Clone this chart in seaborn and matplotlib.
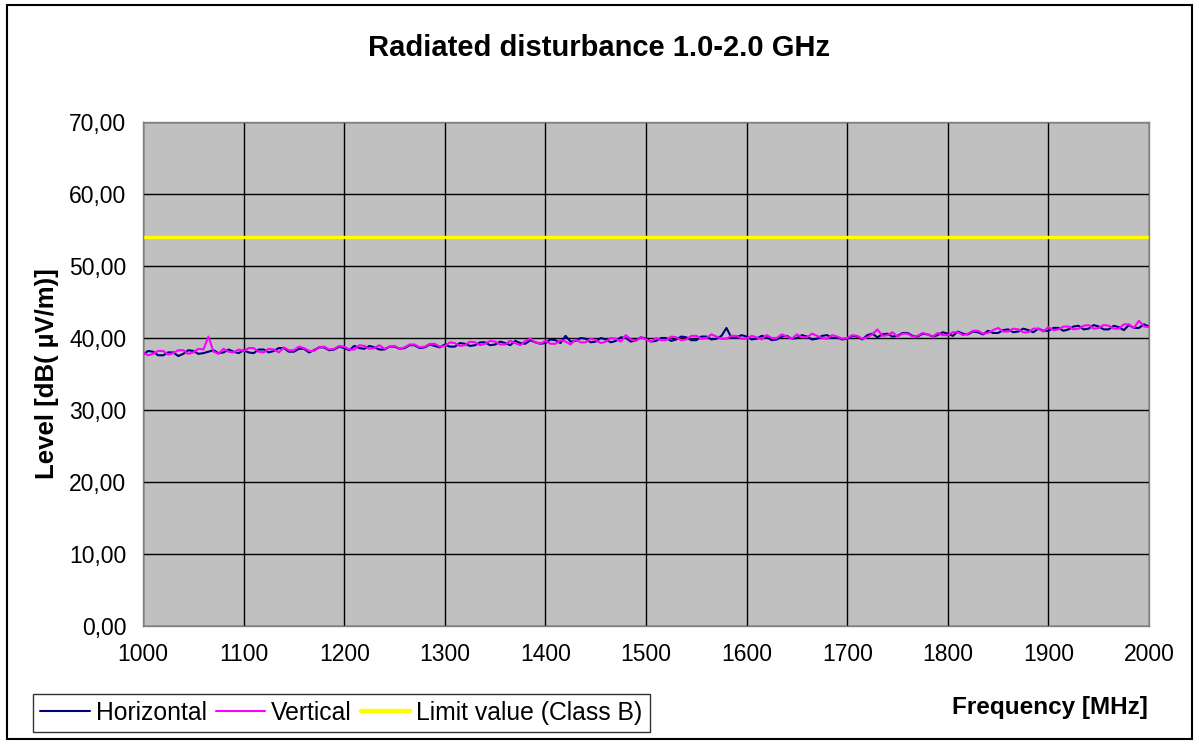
import numpy as np
import pandas as pd
import matplotlib
matplotlib.use('Agg')
import matplotlib.pyplot as plt
import seaborn as sns
from matplotlib.ticker import FuncFormatter
from matplotlib.patches import Rectangle

# frequency grid (MHz), one reading every 5 MHz
freq = list(range(1000, 2001, 5))

horizontal = [
    37.7, 38.2, 38.1, 37.6, 37.6, 38.0, 38.0, 37.5, 37.8, 38.3, 38.2, 37.8, 37.9, 38.1, 38.3, 37.9, 38.0, 38.4, 38.1, 37.9,
    38.3, 38.0, 37.9, 38.4, 38.4, 38.0, 38.2, 38.6, 38.6, 38.1, 38.1, 38.5, 38.5, 38.0, 38.3, 38.7, 38.7, 38.3, 38.4, 38.8,
    38.6, 38.3, 38.9, 38.6, 38.5, 38.9, 38.7, 38.4, 38.4, 38.8, 38.8, 38.5, 38.6, 39.0, 39.0, 38.6, 38.7, 39.1, 38.9, 38.7,
    39.1, 38.8, 38.8, 39.3, 39.2, 38.9, 39.0, 39.4, 39.4, 39.0, 39.1, 39.5, 39.3, 39.0, 39.6, 39.3, 39.2, 39.7, 39.4, 39.2,
    39.3, 39.8, 39.7, 39.3, 40.3, 39.5, 39.6, 40.0, 39.9, 39.4, 39.5, 40.0, 39.8, 39.4, 39.6, 40.1, 40.0, 39.5, 39.7, 40.1,
    39.9, 39.5, 39.6, 40.0, 40.0, 39.6, 39.8, 40.2, 40.1, 39.7, 39.7, 40.2, 40.2, 39.8, 39.9, 40.3, 41.4, 40.0, 40.1, 40.4,
    40.2, 39.8, 39.9, 40.3, 40.1, 39.7, 39.8, 40.2, 40.3, 39.9, 40.0, 40.4, 40.2, 39.8, 39.9, 40.3, 40.4, 40.0, 40.1, 39.8,
    39.9, 40.3, 40.2, 39.8, 40.4, 40.6, 40.1, 40.5, 40.6, 40.2, 40.3, 40.7, 40.7, 40.3, 40.2, 40.6, 40.5, 40.2, 40.4, 40.8,
    40.6, 40.3, 40.9, 40.6, 40.5, 40.9, 40.8, 40.5, 41.0, 40.7, 40.7, 41.1, 41.2, 40.8, 40.9, 41.3, 41.1, 40.8, 41.3, 41.0,
    41.0, 41.4, 41.4, 41.0, 41.2, 41.6, 41.7, 41.2, 41.3, 41.8, 41.6, 41.2, 41.2, 41.7, 41.5, 41.1, 41.8, 41.4, 41.4, 41.9,
    41.6,
]

vertical = [
    38.0, 37.6, 37.8, 38.2, 38.2, 37.7, 37.9, 38.3, 38.3, 37.8, 38.0, 38.5, 38.4, 40.2, 38.1, 37.8, 38.5, 38.1, 38.0, 38.4,
    38.2, 38.6, 38.6, 38.1, 38.0, 38.5, 38.4, 38.0, 38.7, 38.3, 38.3, 38.8, 38.6, 38.2, 38.2, 38.7, 38.8, 38.4, 38.5, 38.9,
    38.8, 38.4, 38.4, 39.0, 38.9, 38.5, 38.6, 39.0, 38.5, 38.8, 38.9, 38.5, 38.7, 39.1, 39.1, 38.7, 38.8, 39.2, 39.2, 38.8,
    38.9, 39.4, 39.3, 38.9, 39.0, 39.5, 39.4, 39.0, 39.2, 39.6, 39.5, 39.1, 39.1, 39.6, 39.3, 39.0, 39.6, 39.9, 39.4, 39.2,
    39.6, 39.2, 39.2, 39.7, 39.5, 39.1, 39.8, 39.4, 39.4, 39.9, 39.7, 39.3, 39.5, 40.0, 39.9, 39.5, 40.4, 39.8, 39.6, 40.1,
    39.8, 39.5, 40.0, 39.7, 39.7, 40.2, 40.1, 39.7, 39.8, 40.3, 40.3, 39.9, 40.0, 40.5, 40.2, 39.9, 39.9, 40.3, 40.3, 39.9,
    39.9, 40.3, 40.1, 39.8, 40.4, 40.0, 40.0, 40.5, 40.2, 39.9, 40.5, 40.1, 40.1, 40.6, 40.3, 40.0, 39.9, 40.4, 40.2, 39.9,
    40.0, 40.4, 40.3, 39.9, 40.1, 40.5, 41.2, 40.3, 40.4, 40.8, 40.2, 40.6, 40.6, 40.2, 40.3, 40.7, 40.5, 40.2, 40.7, 40.4,
    40.4, 40.8, 40.8, 40.4, 40.6, 41.0, 41.0, 40.6, 40.7, 41.1, 41.4, 40.9, 40.9, 41.3, 41.2, 40.8, 40.8, 41.3, 41.3, 40.9,
    41.5, 41.1, 41.2, 41.6, 41.6, 41.2, 41.3, 41.7, 41.8, 41.3, 41.4, 41.8, 41.7, 41.3, 41.3, 41.9, 41.9, 41.4, 42.4, 41.6,
    41.5,
]

limit_value = 54.0

series_names = ['Horizontal', 'Vertical', 'Limit value (Class B)']
colors = {'Horizontal': '#000080', 'Vertical': '#FF00FF',
          'Limit value (Class B)': '#FFFF00'}

df = pd.concat([
    pd.DataFrame({'freq': freq, 'level': horizontal, 'series': 'Horizontal'}),
    pd.DataFrame({'freq': freq, 'level': vertical, 'series': 'Vertical'}),
    pd.DataFrame({'freq': freq, 'level': [limit_value] * len(freq),
                  'series': 'Limit value (Class B)'}),
])

sns.set_style('white')
plt.rcParams['font.family'] = ['Liberation Sans', 'DejaVu Sans']
plt.rcParams['text.color'] = 'black'
plt.rcParams['axes.labelcolor'] = 'black'
plt.rcParams['xtick.color'] = 'black'
plt.rcParams['ytick.color'] = 'black'

fig = plt.figure(figsize=(11.99, 7.44), dpi=100)
ax = fig.add_axes([0.1193, 0.1586, 0.839, 0.6774])
ax.set_facecolor('#C0C0C0')

sns.lineplot(data=df, x='freq', y='level', hue='series', hue_order=series_names,
             palette=colors, estimator=None, sort=False, ax=ax)
for line, lw in zip(ax.lines, [1.5, 1.5, 2.4]):
    line.set_linewidth(lw)

ax.set_xlim(1000, 2000)
ax.set_ylim(0, 70)
ax.set_xticks(range(1000, 2001, 100))
ax.set_yticks(range(0, 71, 10))
ax.yaxis.set_major_formatter(FuncFormatter(lambda v, p: f'{v:.2f}'.replace('.', ',')))
ax.grid(True, color='black', linewidth=1.0)
ax.set_axisbelow(True)
for s in ax.spines.values():
    s.set_color('#808080')
    s.set_linewidth(1.0)
ax.tick_params(axis='both', direction='out', length=6, width=1, color='black',
               labelsize=16.5, pad=6, labelcolor='black')

ax.set_xlabel('')
ax.set_ylabel('Level [dB( µV/m)]', fontsize=18.5, fontweight='bold', labelpad=7,
              color='black')
fig.text(0.5, 0.935, 'Radiated disturbance 1.0-2.0 GHz', ha='center', va='center',
         fontsize=21, fontweight='bold', color='black')
fig.text(0.957, 0.049, 'Frequency [MHz]', ha='right', va='center',
         fontsize=17.5, fontweight='bold', color='black')

handles, labels = ax.get_legend_handles_labels()
leg = ax.legend(handles, labels, ncol=3, loc='center left',
                bbox_to_anchor=(0.0275, 0.0417), bbox_transform=fig.transFigure,
                fontsize=17.8, frameon=True, fancybox=False, handlelength=2.0,
                handletextpad=0.25, columnspacing=0.35, borderpad=0.3,
                borderaxespad=0)
leg.get_frame().set_edgecolor('black')
leg.get_frame().set_linewidth(1.0)
for t in leg.get_texts():
    t.set_color('black')
leg.get_lines()[2].set_linewidth(3.2)

fig.patches.append(Rectangle((0.006, 0.007), 0.988, 0.986, transform=fig.transFigure,
                             fill=False, edgecolor='black', linewidth=1.5))

fig.savefig('out.png', dpi=100)
